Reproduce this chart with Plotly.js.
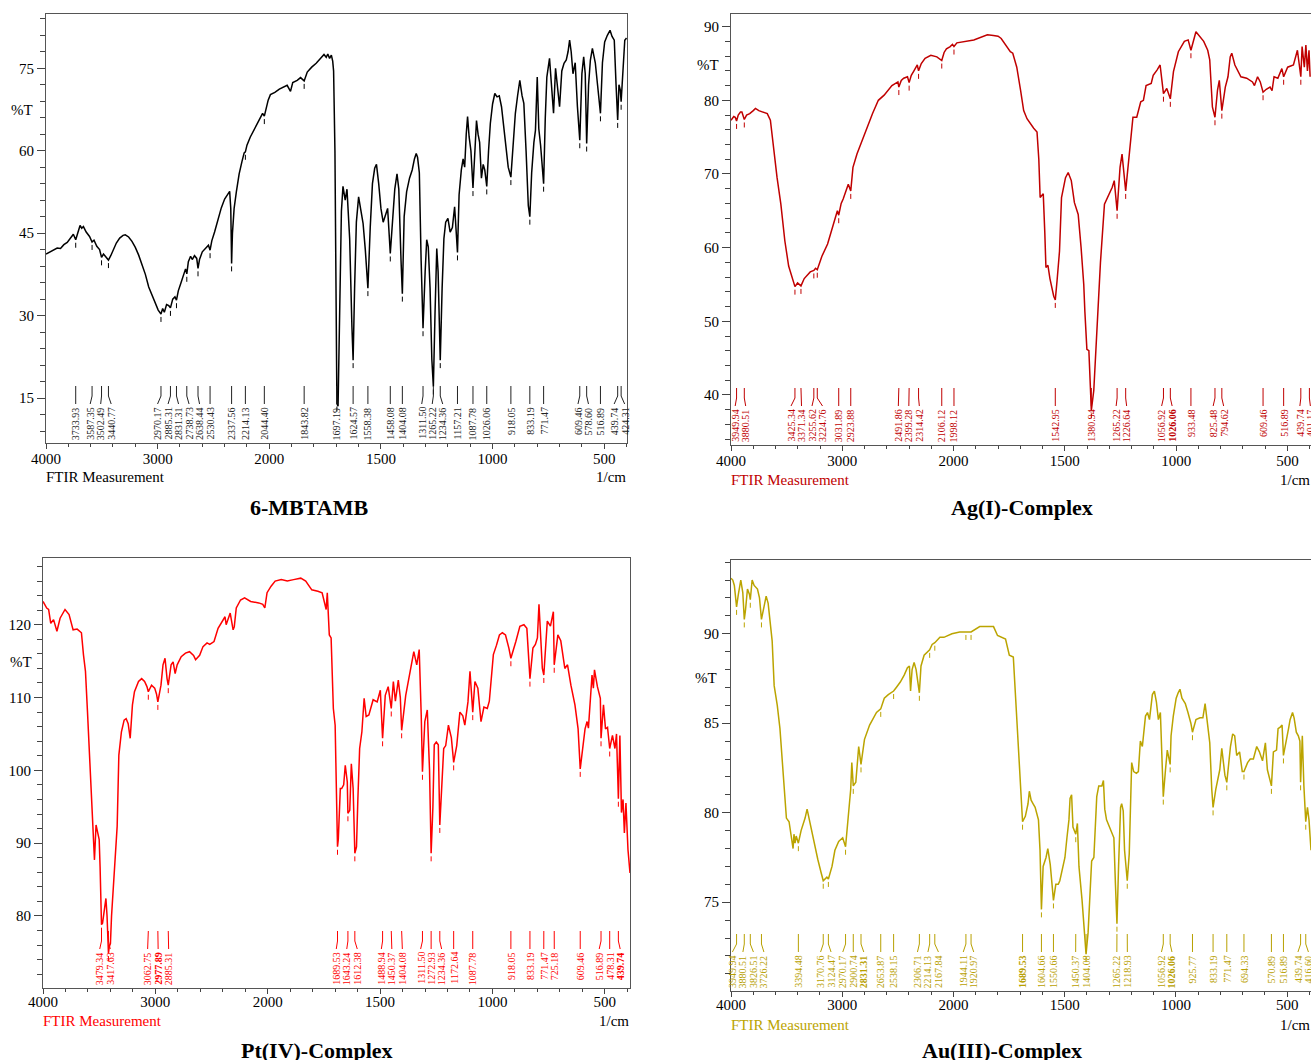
<!DOCTYPE html>
<html><head><meta charset="utf-8">
<script src="https://cdn.plot.ly/plotly-3.0.1.min.js"></script>
<style>html,body{margin:0;padding:0;background:#fff;}#chart{width:1311px;height:1060px;}</style>
</head><body><div id="chart"></div>
<script>
// ---------------- DATA ----------------
const xTickWaves = [4000, 3000, 2000, 1500, 1000, 500];
const xTickLabels = ['4000', '3000', '2000', '1500', '1000', '500'];
const panelTitles = ['6-MBTAMB', 'Ag(I)-Complex', 'Pt(IV)-Complex', 'Au(III)-Complex'];

// 6-MBTAMB
const mbWave = [4000,3960,3930,3900,3870,3840,3810,3780,3755,3733.93,3715,3695,3680,3665,3640,3610,3587.35,3570,3545,3520,3502.49,3485,3465,3440.77,3420,3395,3370,3340,3310,3290,3260,3230,3200,3170,3140,3110,3080,3050,3020,2995,2970.17,2955,2940,2920,2900,2885.31,2865,2845,2831.31,2815,2790,2765,2750,2738.73,2725,2705,2690,2670,2650,2638.44,2625,2600,2570,2545,2530.43,2515,2490,2460,2430,2400,2370,2355,2345,2337.56,2330,2315,2295,2270,2245,2225,2214.13,2200,2170,2140,2110,2080,2060,2044.40,2030,2010,1995,1975,1955,1935,1920,1905,1895,1875,1860,1843.82,1830,1810,1790,1770,1755,1745,1738,1730,1722,1716,1712,1706,1701,1697.19,1692,1688,1683,1677,1670,1660,1652,1640,1630,1624.57,1618,1610,1600,1590,1580,1570,1558.38,1548,1538,1528,1520,1510,1500,1490,1480,1470,1458.08,1448,1438,1428,1420,1410,1404.08,1396,1385,1372,1360,1350,1342,1336,1328,1320,1311.50,1302,1295,1288,1280,1272,1265.22,1258,1250,1244,1234.36,1226,1218,1210,1200,1190,1180,1170,1163,1157.21,1150,1140,1132,1125,1118,1112,1105,1097,1087.78,1080,1072,1065,1058,1050,1042,1035,1026.06,1018,1010,1000,990,980,970,960,950,940,930,918.05,908,898,888,878,868,860,850,840,833.19,825,815,808,800,793,785,778,771.47,764,757,745,736,727,718,710,700,690,680,670,662,655,648,640,630,620,609.46,600,592,585,578.60,570,562,553,540,530,516.89,508,498,486,474,465,455,447,439.74,434,428,424.31,415,408,400];
const mbT = [41.2,41.6,41.9,42.3,42.2,42.9,43.3,44.2,44.8,43.8,45.3,46.4,45.9,46.2,45.2,44.4,43.4,43.7,42.6,42.0,40.6,41.2,40.7,40.1,40.9,42.0,43.2,44.1,44.6,44.7,44.3,43.5,42.4,41.0,39.4,37.5,35.2,33.6,32.3,31.0,30.3,31.3,30.6,32.0,31.8,31.4,33.0,33.4,32.8,34.5,36.0,37.8,38.5,37.6,39.8,40.8,40.2,40.9,40.4,38.6,40.2,41.6,42.3,42.8,41.9,43.6,45.2,47.3,49.6,51.2,52.3,52.6,49.5,39.5,45.0,49.5,52.5,55.8,58.0,59.6,59.8,61.0,62.5,63.6,64.9,66.0,66.8,66.3,67.8,69.2,70.2,70.6,71.2,71.6,71.9,70.8,72.4,72.8,73.3,72.7,74.3,75.2,75.9,76.8,77.5,77.0,77.6,76.8,77.4,76.3,74.5,60.0,30.0,14.0,13.5,25.0,40.0,49.0,53.5,51.0,53.0,44.0,28.0,21.9,35.0,47.0,51.6,49.5,46.8,42.0,35.0,46.0,54.0,56.8,57.5,54.0,49.5,47.0,48.5,49.5,41.3,47.5,53.0,55.8,53.0,40.0,34.0,48.0,52.5,55.0,56.5,58.5,59.5,58.8,56.0,40.0,27.7,38.0,43.8,42.5,35.0,22.0,17.1,30.0,42.2,38.0,21.9,35.0,44.0,47.0,47.7,45.2,46.0,49.8,45.0,41.5,52.0,56.5,58.5,57.0,63.0,66.2,62.5,60.0,53.2,60.0,65.5,63.0,61.5,55.0,57.5,56.5,53.5,60.0,65.0,68.5,70.4,69.8,70.0,68.0,64.0,61.3,57.0,55.2,62.0,66.8,70.0,72.8,70.0,68.6,60.0,50.0,48.0,56.0,61.5,63.7,73.4,64.0,61.0,57.0,54.0,66.0,73.4,76.8,72.0,66.8,75.0,72.0,68.0,74.5,75.9,76.5,78.0,80.1,78.0,74.0,76.0,68.0,61.9,74.0,77.1,74.0,61.3,72.0,76.5,78.6,76.0,72.0,66.8,76.0,79.8,81.0,81.9,80.8,80.1,72.0,65.6,72.0,71.0,68.9,76.0,80.1,80.5];
const mbPeaks = [3733.93,3587.35,3502.49,3440.77,2970.17,2885.31,2831.31,2738.73,2638.44,2530.43,2337.56,2214.13,2044.40,1843.82,1697.19,1624.57,1558.38,1458.08,1404.08,1311.50,1265.22,1234.36,1157.21,1087.78,1026.06,918.05,833.19,771.47,609.46,578.60,516.89,439.74,424.31];

// Ag(I)-Complex
const agWave = [4000,3990,3975,3962,3949.94,3935,3915,3902,3880.51,3860,3832,3800,3780,3750,3710,3674,3646,3622,3586,3552,3516,3482,3458,3440,3425.34,3402,3385,3371.34,3342,3288,3255.62,3240,3224.76,3184,3132,3078,3044,3031.89,3010,2992,2946,2923.88,2904,2868,2834,2798,2764,2728,2676,2624,2554,2500,2491.86,2470,2448,2414,2399.28,2380,2360,2326,2314.42,2290,2256,2204,2150,2120,2106.12,2085,2064,2030,2010,1998.12,1985,1909,1870,1848,1821,1800,1786,1760,1745,1734,1716,1699,1685,1670,1655,1640,1625,1617,1611,1597,1590,1585,1576,1567,1550,1542.95,1535,1527,1524,1515,1497,1485,1471,1457,1440,1427,1415,1410,1401,1392,1384,1380.94,1370,1357,1340,1322,1305,1287,1278,1265.22,1252,1243,1226.64,1208,1194,1177,1159,1147,1135,1112,1103,1086,1072,1056.92,1042,1026.06,1012,990,963,946,933.48,911,893,876,858,849,837,825.48,814,806,794.62,779,767,757,750,736,709,683,657,648,634,622,609.46,595,578,569,560,543,525,516.89,499,473,455,439.74,434,424,417,410,403,398];
const agT = [77.3,77.5,77.8,77.7,77.2,78.0,78.4,78.4,77.4,78.0,78.2,78.6,78.9,78.6,78.4,78.2,77.3,74.1,69.5,65.9,60.9,57.5,56.3,55.2,54.7,55.2,55.0,54.8,55.8,56.7,56.9,57.2,57.0,58.8,60.5,63.2,65.0,64.4,66.0,66.6,68.6,67.7,70.9,72.7,74.1,75.5,76.8,78.2,80.0,80.7,82.0,82.5,81.8,82.7,83.0,83.2,82.4,83.4,83.9,84.8,84.0,85.0,85.7,86.1,85.9,85.6,85.4,86.5,87.0,87.3,87.6,87.3,87.8,88.2,88.6,88.9,88.8,88.7,88.4,87.3,86.6,86.4,84.5,81.4,78.6,77.5,76.8,76.2,75.7,72.0,66.8,67.3,62.0,57.3,57.6,55.8,53.4,52.9,55.5,58.0,59.5,66.8,69.5,70.2,69.1,66.1,64.5,60.0,55.0,51.3,46.2,46.0,38.8,37.9,40.6,47.8,58.0,65.9,67.0,68.2,69.1,65.0,70.9,72.7,67.7,73.2,77.7,77.7,79.8,80.0,82.0,82.3,83.4,84.1,84.8,80.9,81.6,80.2,83.9,86.6,88.0,88.2,86.8,89.3,88.6,88.0,86.8,85.5,79.1,77.7,81.4,82.7,78.6,81.8,83.2,85.9,86.4,84.8,83.2,83.0,82.5,82.0,83.2,82.5,81.1,81.5,81.8,81.3,83.2,83.0,84.3,83.2,84.5,84.8,86.8,83.2,87.3,84.5,87.5,84.0,86.8,83.2];
const agPeaks = [3949.94,3880.51,3425.34,3371.34,3255.62,3224.76,3031.89,2923.88,2491.86,2399.28,2314.42,2106.12,1998.12,1542.95,1380.94,1265.22,1226.64,1056.92,1026.06,933.48,825.48,794.62,609.46,516.89,439.74,401.17];

// Pt(IV)-Complex
const ptWave = [4000,3993,3967,3950,3931,3906,3876,3848,3825,3804,3768,3732,3696,3658,3640,3622,3604,3586,3568,3558,3550,3542,3528,3514,3500,3492,3485,3479.34,3470,3455,3440,3430,3422,3417.63,3410,3400,3390,3376,3358,3340,3325,3302,3278,3260,3242,3224,3204,3186,3150,3122,3096,3075,3062.75,3034,3006,2990,2977.89,2950,2932,2914,2896,2885.31,2860,2842,2824,2806,2770,2732,2696,2660,2642,2606,2576,2540,2516,2478,2442,2406,2380,2370,2352,2334,2308,2298,2280,2242,2206,2152,2080,2044,2026,2006,1985,1967,1940,1913,1885,1853,1831,1804,1777,1758,1740,1735,1726,1718,1708,1700,1693,1689.53,1686,1677,1671,1662,1655,1646,1643.24,1635,1628,1620,1612.38,1605,1599,1591,1581,1571,1562,1550,1531,1513,1499,1488.94,1477,1464,1450.37,1441,1432,1419,1410,1404.08,1386,1368,1350,1337,1326,1317,1311.50,1301,1290,1280,1272.93,1265,1259,1250,1241,1234.36,1225,1217,1208,1196,1183,1172.64,1159,1145,1132,1123,1109,1100,1087.78,1078,1065,1051,1038,1023,1014,996,982,969,956,942,927,918.05,896,878,860,847,833.19,820,809,800,793,778,771.47,756,742,729,725.18,709,696,678,666,651,633,619,609.46,600,588,579,573,564,557,551,546,533,520,516.89,506,497,488,478.31,466,455,448,439.74,433,426,419,413,406,397,388];
const ptT = [123.2,123.0,122.3,122.1,120.2,120.7,119.1,120.9,121.5,122.1,121.4,119.3,119.4,118.9,115.9,113.6,108.0,102.0,94.7,92.3,90.9,87.7,92.5,91.4,90.5,86.8,81.0,78.8,79.0,80.5,82.4,80.0,76.0,74.9,75.8,76.2,80.0,83.1,87.7,92.3,102.1,105.3,106.9,107.1,106.4,104.4,109.0,110.8,112.2,112.6,112.2,111.5,110.8,111.7,111.3,110.5,109.4,111.7,114.5,115.4,112.6,111.7,114.5,114.9,113.3,114.5,115.6,116.1,116.3,115.8,115.2,115.8,117.0,117.5,117.3,117.7,119.5,120.5,121.1,120.0,120.7,121.6,119.3,119.7,122.3,123.4,123.7,123.2,123.0,122.8,122.3,124.4,125.3,126.0,126.2,126.0,126.2,126.4,126.0,124.8,124.6,124.4,122.1,124.4,118.6,118.2,108.5,106.2,95.0,89.5,90.5,97.5,97.5,98.0,100.7,98.4,94.1,94.5,100.9,97.5,88.6,89.5,96.0,103.0,105.3,109.9,107.4,107.6,109.7,109.4,111.0,104.4,110.3,111.5,108.5,112.2,109.5,112.4,110.0,105.5,110.3,113.3,116.3,114.5,116.6,107.6,99.8,106.7,108.3,100.0,88.6,95.0,103.5,103.9,103.5,92.5,98.0,103.0,103.4,106.2,104.5,101.1,103.4,108.0,107.5,106.2,109.4,113.6,108.0,112.2,111.3,106.7,108.7,108.5,109.5,115.9,117.2,118.6,118.9,118.6,116.8,115.4,117.7,119.8,120.0,119.5,112.6,116.8,117.3,118.2,122.8,114.0,113.1,120.5,119.8,121.8,114.5,118.6,117.8,114.0,114.5,111.7,109.0,105.7,100.2,103.0,105.7,106.7,105.8,109.9,113.1,111.3,113.8,111.5,109.9,104.4,109.0,105.7,105.9,103.0,104.8,103.0,105.0,96.1,104.8,94.2,96.0,91.4,95.5,89.1,85.9];
const ptPeaks = [3479.34,3417.63,3062.75,2977.89,2885.31,1689.53,1643.24,1612.38,1488.94,1450.37,1404.08,1311.50,1272.93,1234.36,1172.64,1087.78,918.05,833.19,771.47,725.18,609.46,516.89,478.31,439.74];

// Au(III)-Complex
const auWave = [4000,3984,3970,3949.94,3934,3912,3894,3880.51,3870,3852,3834,3826.51,3810,3792,3762,3744,3726.22,3706,3684,3666,3648,3630,3612,3584,3560,3542,3524,3512,3502,3478,3460,3442,3434,3424,3414,3394.48,3370,3334,3316,3306,3282,3246,3220,3192,3170.76,3138,3124.47,3092,3066,3032,2996,2970.17,2950,2934,2924,2914,2900.74,2878,2852,2831.31,2800,2754,2728,2692,2653.87,2622,2586,2538.15,2514,2478,2442,2414,2396,2386,2372,2354,2336,2306.71,2292,2264,2214.13,2192,2167.84,2122,2086,2050,2014,1972,1944.11,1920.97,1882,1847,1820,1802,1784,1766,1749,1731,1722,1713,1704,1695,1689.53,1677,1665,1659,1651,1642,1633,1618,1611,1604.66,1597,1584,1576,1565,1556,1550.66,1540,1529,1522,1511,1499,1490,1481,1476,1469,1463,1450.37,1443,1436,1422,1410,1404.08,1395,1386,1379,1369,1362,1356,1347,1333,1326,1320,1312,1303,1294,1279,1272,1265.22,1258,1249,1244,1237,1231,1222,1218.93,1210,1199,1190,1178,1169,1160,1151,1137,1128,1119,1106,1097,1088,1079,1070,1062,1056.92,1047,1039,1026.06,1022,1012,999,990,982,973,958,946,933,925.77,910,892,879,869,860,848,839,833.19,821,803,794,780,771.47,755,745,736,727,714,702,694.33,678,666,652,637,625,611,598,589,570.89,562,548,541,530,523,516.89,505,494,487,476,469,459,450,443,439.74,432,425,416.60,409,402,393];
const auT = [93.1,93.0,92.7,91.5,92.2,93.0,92.3,90.8,91.3,92.5,92.2,91.9,93.0,92.7,92.5,92.0,90.8,91.4,92.1,91.7,90.7,89.6,87.1,86.0,84.7,83.2,81.5,80.7,79.7,79.5,78.8,78.0,78.8,78.3,78.7,78.3,79.0,79.7,80.2,79.9,79.3,78.3,77.4,76.7,76.2,76.4,76.3,77.0,77.9,78.4,78.6,78.1,79.6,80.3,81.3,82.8,81.5,81.7,83.7,82.7,84.1,84.9,85.2,85.6,85.8,86.4,86.6,86.8,87.0,87.3,87.7,88.1,88.2,86.8,88.0,88.4,88.0,86.7,88.2,88.8,89.1,89.4,89.5,89.8,89.8,89.9,90.0,90.1,90.1,90.1,90.4,90.4,90.4,89.9,89.8,89.7,88.8,88.7,86.7,84.7,82.8,80.6,79.5,79.8,80.5,81.2,80.7,80.5,80.3,79.6,77.9,74.6,77.0,77.5,78.0,77.1,75.5,75.1,76.0,76.0,76.2,76.8,77.5,78.6,79.6,80.8,81.0,79.2,78.8,79.4,77.0,75.1,73.3,72.1,73.3,76.0,77.3,77.5,79.0,80.9,81.5,81.5,81.8,80.2,79.6,79.3,79.0,78.6,76.0,73.8,77.0,80.3,80.5,80.1,77.9,76.4,76.2,77.7,82.8,82.3,82.2,82.3,84.0,83.7,85.4,85.6,85.2,86.6,86.8,86.2,85.2,85.6,83.2,80.9,82.4,83.5,82.7,84.3,85.4,86.4,86.7,86.9,86.4,86.1,85.6,85.0,84.5,85.2,85.3,85.3,86.1,85.2,83.9,81.3,80.3,81.3,82.4,83.6,82.1,81.7,83.7,84.4,84.3,83.2,83.4,82.3,82.3,82.8,83.0,83.0,83.7,83.4,82.9,83.9,82.4,81.5,83.4,83.5,84.7,84.8,84.9,83.2,83.9,84.7,85.2,85.6,85.3,84.5,84.3,84.0,81.7,84.3,81.5,79.5,80.3,79.6,77.9];
const auPeaks = [3949.94,3880.51,3826.51,3726.22,3394.48,3170.76,3124.47,2970.17,2900.74,2831.31,2653.87,2538.15,2306.71,2214.13,2167.84,1944.11,1920.97,1689.53,1604.66,1550.66,1450.37,1404.08,1265.22,1218.93,1056.92,1026.06,925.77,833.19,771.47,694.33,570.89,516.89,439.74,416.60];

// labels drawn twice (heavier) in the original
const agDoubled = [1026.06];
const ptDoubled = [2977.89, 439.74];
const auDoubled = [2831.31, 1689.53, 1026.06];

// ---------------- DRAWING ----------------
const W = 1311, H = 1060;
const SERIF = '"Liberation Serif","Times New Roman",Times,serif';
function u(w) { return w > 2000 ? 2000 + (w - 2000) / 2 : w; }

const panels = [
  {wave: mbWave, t: mbT, peaks: mbPeaks, doubled: [], color: '#000000', txt: '#222222', ftir: '#000000',
   box: [46, 627, 14, 443], xr: [3000, 398], yr: [6.82, 84.87], ymaj: 15, ymin: 3,
   title: [309, 507], pct: [22, 110], ftirY: 477, stand: -3},
  {wave: agWave, t: agT, peaks: agPeaks, doubled: agDoubled, color: '#c00000', txt: '#c00000', ftir: '#c00000',
   box: [731, 1311, 14, 445], xr: [3000, 394], yr: [33.2, 91.72], ymaj: 10, ymin: 2,
   title: [1022, 507], pct: [708, 65], ftirY: 480, stand: -3},
  {wave: ptWave, t: ptT, peaks: ptPeaks, doubled: ptDoubled, color: '#ff0000', txt: '#ff0000', ftir: '#ff0000',
   box: [43, 630, 558, 988], xr: [3000, 388], yr: [70.1, 129.17], ymaj: 10, ymin: 2,
   title: [317, 1050], pct: [21, 662], ftirY: 1021, stand: -5},
  {wave: auWave, t: auT, peaks: auPeaks, doubled: auDoubled, color: '#bba400', txt: '#b8a000', ftir: '#bba400',
   box: [731, 1311, 560, 991], xr: [3000, 393], yr: [70.04, 94.12], ymaj: 5, ymin: 1,
   title: [1002, 1050], pct: [706, 678], ftirY: 1025, stand: -5}
];

function interp(ws, vs, w) {
  for (let i = 0; i < ws.length - 1; i++) {
    if (ws[i] >= w && ws[i + 1] <= w) {
      const f = (ws[i] - w) / (ws[i] - ws[i + 1] || 1);
      return vs[i] + f * (vs[i + 1] - vs[i]);
    }
  }
  return vs[vs.length - 1];
}

function spread(targets, gap) {
  const clusters = [];
  targets.forEach((t, i) => {
    clusters.push({idx: [i], sum: t, n: 1, start: t});
    while (clusters.length > 1) {
      const b = clusters[clusters.length - 1], a = clusters[clusters.length - 2];
      if (a.start + a.n * gap > b.start) {
        a.idx = a.idx.concat(b.idx); a.sum += b.sum; a.n += b.n;
        a.start = a.sum / a.n - (a.n - 1) * gap / 2;
        clusters.pop();
      } else break;
    }
  });
  const out = new Array(targets.length);
  clusters.forEach(c => c.idx.forEach((k, j) => { out[k] = c.start + j * gap; }));
  return out;
}

const traces = [];
const annotations = [];
const layout = {
  width: W, height: H, autosize: false,
  margin: {l: 0, r: 0, t: 0, b: 0, pad: 0},
  paper_bgcolor: '#ffffff', plot_bgcolor: '#ffffff',
  showlegend: false, hovermode: false,
  font: {family: SERIF, color: '#000'}
};

panels.forEach((p, k) => {
  const i = k + 1, s = i === 1 ? '' : String(i);
  const [L, R, T, B] = p.box;
  const xa = 'x' + s, ya = 'y' + s;
  const pxToU = px => p.xr[0] - (px - L) / (R - L) * (p.xr[0] - p.xr[1]);
  const uToPx = uu => L + (p.xr[0] - uu) / (p.xr[0] - p.xr[1]) * (R - L);
  const pyToV = py => p.yr[1] - (py - T) / (B - T) * (p.yr[1] - p.yr[0]);
  const perPx = (p.yr[1] - p.yr[0]) / (B - T);

  const minorX = [];
  for (let v = 100; v < 3000; v += 100) if (v % 500 !== 0) minorX.push(v);
  const minorY = [];
  for (let v = Math.ceil(p.yr[0] / p.ymin) * p.ymin; v <= p.yr[1]; v += p.ymin) {
    const r = Math.round(v * 1000) / 1000;
    if (Math.abs(r / p.ymaj - Math.round(r / p.ymaj)) > 1e-6) minorY.push(r);
  }

  layout['xaxis' + s] = {
    domain: [L / W, R / W], range: p.xr, anchor: ya,
    tickmode: 'array', tickvals: xTickWaves.map(u), ticktext: xTickLabels,
    ticks: 'outside', ticklen: 5, tickwidth: 1, tickcolor: '#444', ticklabelstandoff: p.stand,
    showline: true, linecolor: '#555', linewidth: 1, mirror: true,
    showgrid: false, zeroline: false, fixedrange: true,
    tickfont: {family: SERIF, size: 15, color: '#000'},
    minor: {tickmode: 'array', tickvals: minorX, ticks: 'outside', ticklen: 3, tickwidth: 1, tickcolor: '#444', showgrid: false}
  };
  layout['yaxis' + s] = {
    domain: [1 - B / H, 1 - T / H], range: p.yr, anchor: xa,
    tickmode: 'linear', tick0: 0, dtick: p.ymaj,
    ticks: 'outside', ticklen: 8, tickwidth: 1, tickcolor: '#444',
    showline: true, linecolor: '#555', linewidth: 1, mirror: true,
    showgrid: false, zeroline: false, fixedrange: true,
    tickfont: {family: SERIF, size: 15, color: '#000'},
    minor: {tickmode: 'array', tickvals: minorY, ticks: 'outside', ticklen: 5, tickwidth: 1, tickcolor: '#444', showgrid: false}
  };

  traces.push({
    x: p.wave.map(u), y: p.t, xaxis: xa, yaxis: ya, type: 'scatter', mode: 'lines',
    line: {color: p.color, width: 1.5}, hoverinfo: 'skip'
  });

  const peakU = p.peaks.map(u);
  const peakPx = peakU.map(uToPx);
  const labPx = spread(peakPx, 10.5);
  const mx = [], my = [], lx = [], ly = [];
  p.peaks.forEach((w, j) => {
    const dip = interp(p.wave, p.t, w);
    mx.push(peakU[j], peakU[j], null);
    my.push(dip - 3 * perPx, dip - 8 * perPx, null);
    const lu = pxToU(labPx[j]);
    lx.push(peakU[j], peakU[j], lu, null);
    ly.push(pyToV(B - 57), pyToV(B - 47), pyToV(B - 39), null);
    const txt = w.toFixed(2);
    annotations.push({
      xref: xa, yref: ya, x: lu, y: pyToV(B - 37), text: p.doubled.includes(w) ? '<b>' + txt + '</b>' : txt,
      textangle: -90, xanchor: 'center', yanchor: 'top', showarrow: false, borderpad: 0,
      font: {family: SERIF, size: 10, color: p.txt}
    });
  });
  traces.push({x: mx, y: my, xaxis: xa, yaxis: ya, type: 'scatter', mode: 'lines',
    line: {color: p.color, width: 1}, hoverinfo: 'skip', connectgaps: false});
  traces.push({x: lx, y: ly, xaxis: xa, yaxis: ya, type: 'scatter', mode: 'lines',
    line: {color: p.txt, width: 1}, hoverinfo: 'skip', connectgaps: false});

  annotations.push({xref: 'paper', yref: 'paper', x: p.title[0] / W, y: 1 - p.title[1] / H,
    text: '<b>' + panelTitles[k] + '</b>', showarrow: false, xanchor: 'center', yanchor: 'middle',
    font: {family: SERIF, size: 22, color: '#000'}});
  annotations.push({xref: 'paper', yref: 'paper', x: p.pct[0] / W, y: 1 - p.pct[1] / H,
    text: '%T', showarrow: false, xanchor: 'center', yanchor: 'middle',
    font: {family: SERIF, size: 15, color: '#000'}});
  annotations.push({xref: 'paper', yref: 'paper', x: (L - 1) / W, y: 1 - p.ftirY / H,
    text: 'FTIR Measurement', showarrow: false, xanchor: 'left', yanchor: 'middle', borderpad: 0,
    font: {family: SERIF, size: 15, color: p.ftir}});
  annotations.push({xref: 'paper', yref: 'paper', x: R / W, y: 1 - p.ftirY / H,
    text: '1/cm', showarrow: false, xanchor: 'right', yanchor: 'middle', borderpad: 0,
    font: {family: SERIF, size: 15, color: '#000'}});
});

layout.annotations = annotations;
Plotly.newPlot('chart', traces, layout, {staticPlot: true, displayModeBar: false});
</script>
</body></html>
